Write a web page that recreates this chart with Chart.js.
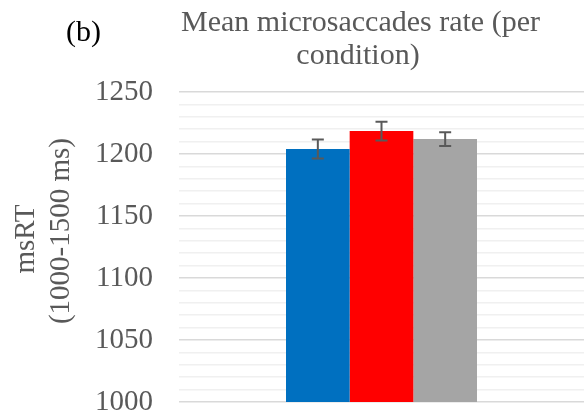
<!DOCTYPE html>
<html>
<head>
<meta charset="utf-8">
<script src="https://cdn.jsdelivr.net/npm/chart.js@4/dist/chart.umd.min.js"></script>
<style>
  html, body { margin: 0; padding: 0; background: #ffffff; }
  #wrap { width: 584px; height: 415px; position: relative; }
</style>
</head>
<body>
<div id="wrap"><canvas id="c" width="584" height="415"></canvas></div>
<script>
const categories = [''];
const seriesNames = ['Condition 1', 'Condition 2', 'Condition 3'];
const seriesValues = [1204, 1218.5, 1212];
const seriesErrors = [7.6, 7.6, 5.5];
const seriesColors = ['#0070C0', '#FF0000', '#A5A5A5'];
const yMin = 1000, yMax = 1250, yMinorStep = 10, yMajorStep = 50;
const titleLines = ['Mean microsaccades rate (per', 'condition)'];
const axisTitleLines = ['msRT', '(1000-1500 ms)'];
const panelLabel = '(b)';

const SERIF = '"Liberation Serif", "Times New Roman", serif';

const errorBars = {
  id: 'errorBars',
  afterDatasetsDraw(chart) {
    const ctx = chart.ctx;
    const ys = chart.scales.y;
    ctx.save();
    ctx.strokeStyle = '#595959';
    ctx.lineWidth = 2;
    chart.data.datasets.forEach((ds, i) => {
      const meta = chart.getDatasetMeta(i);
      meta.data.forEach((bar, j) => {
        const v = ds.data[j], e = seriesErrors[i];
        const x = bar.x;
        const yTop = ys.getPixelForValue(v + e);
        const yBot = ys.getPixelForValue(v - e);
        const cap = 6;
        ctx.beginPath();
        ctx.moveTo(x, yTop); ctx.lineTo(x, yBot);
        ctx.moveTo(x - cap, yTop); ctx.lineTo(x + cap, yTop);
        ctx.moveTo(x - cap, yBot); ctx.lineTo(x + cap, yBot);
        ctx.stroke();
      });
    });
    ctx.restore();
  }
};

const texts = {
  id: 'texts',
  afterDraw(chart) {
    const ctx = chart.ctx;
    ctx.save();
    ctx.fillStyle = '#000000';
    ctx.font = '30px ' + SERIF;
    ctx.textAlign = 'left';
    ctx.textBaseline = 'alphabetic';
    ctx.fillText(panelLabel, 66, 41);
    ctx.fillStyle = '#595959';
    ctx.font = '30px ' + SERIF;
    ctx.textAlign = 'center';
    ctx.fillText(titleLines[0], 360.5, 31);
    ctx.fillText(titleLines[1], 358, 64);
    ctx.font = '29px ' + SERIF;
    ctx.textBaseline = 'alphabetic';
    ctx.translate(0, 0);
    ctx.rotate(-Math.PI / 2);
    ctx.fillText(axisTitleLines[0], -239, 33.5);
    ctx.fillText(axisTitleLines[1], -231, 68.5);
    ctx.restore();
  }
};

new Chart(document.getElementById('c'), {
  type: 'bar',
  data: {
    labels: categories,
    datasets: seriesNames.map((n, i) => ({
      label: n,
      data: [seriesValues[i]],
      backgroundColor: seriesColors[i],
      borderWidth: 0,
      categoryPercentage: 0.4716,
      barPercentage: 1.0
    }))
  },
  options: {
    responsive: false,
    animation: false,
    devicePixelRatio: 1,
    layout: { padding: { top: 92, right: 0, bottom: 13, left: 0 } },
    plugins: {
      legend: { display: false },
      title: { display: false },
      tooltip: { enabled: false }
    },
    scales: {
      x: { display: false },
      y: {
        min: yMin,
        max: yMax,
        afterFit(scale) { scale.width = 179; scale.paddingTop = 0; scale.paddingBottom = 0; },
        border: { display: false },
        grid: {
          drawTicks: false,
          lineWidth: 1.5,
          color: (c) => (c.tick && c.tick.value % yMajorStep === 0) ? '#d9d9d9' : '#f0f0f0'
        },
        ticks: {
          stepSize: yMinorStep,
          autoSkip: false,
          padding: 26,
          color: '#595959',
          font: { family: SERIF, size: 29, lineHeight: 0.85 },
          callback: (v) => (v % yMajorStep === 0 ? String(v) : '')
        }
      }
    }
  },
  plugins: [errorBars, texts]
});
</script>
</body>
</html>
